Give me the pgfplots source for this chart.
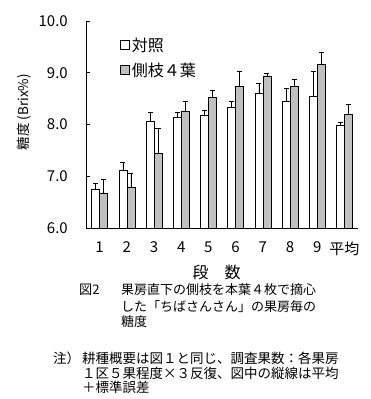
\documentclass[border=0pt]{standalone}
\usepackage{fontspec}
\setmainfont{Noto Sans CJK JP}
\usepackage{pgfplots}
\pgfplotsset{compat=1.18}
\definecolor{barg}{RGB}{192,192,192}
\begin{document}
\begin{tikzpicture}[x=1pt,y=1pt]
\useasboundingbox (0,0) rectangle (370,399);
\begin{axis}[
  at={(86pt,171pt)}, anchor=south west,
  scale only axis, width=272pt, height=207pt,
  xmin=0.5, xmax=10.5, ymin=6, ymax=10,
  axis x line*=bottom, axis y line*=left,
  ytick={6,7,8,9,10},
  yticklabel style={/pgf/number format/fixed,/pgf/number format/fixed zerofill,/pgf/number format/precision=1,inner sep=0pt,xshift=-18pt},
  /pgf/number format/assume math mode=true,
  xtick={1,...,10}, xticklabels={1,2,3,4,5,6,7,8,9,平均},
  xticklabel style={inner sep=0pt, yshift=-10pt},
  x tick style={draw=none},
  y tick style={black, line width=0.6pt},
  tick align=inside, major tick length=3.5pt,
  ticklabel style={font=\fontsize{15}{17}\selectfont},
  axis line style={black, line width=0.6pt},
  ybar=0pt, bar width=8pt,
  xlabel={段　数}, xlabel style={font=\fontsize{16}{18}\selectfont, at={(axis description cs:0.48,-0.215)}, anchor=center},
  ylabel={糖度 (Brix\%)}, ylabel style={font=\fontsize{13.5}{15}\selectfont, at={(axis description cs:-0.228,0.56)}, anchor=center},
  legend style={draw=none, fill=none, at={(axis description cs:0.125,0.93)}, anchor=north west, font=\fontsize{16}{18}\selectfont, row sep=6pt, inner sep=0pt, cells={anchor=west}},
  legend image code/.code={\draw[#1, line width=0.6pt] (0pt,-4.5pt) rectangle (9pt,4.5pt);},
  error bars/y dir=plus, error bars/y explicit,
  error bars/error bar style={black, line width=0.6pt},
  error bars/error mark options={rotate=90, mark size=2.5pt, black, line width=0.6pt},
]
\addplot[draw=black, fill=white, line width=0.6pt] coordinates {
 (1,6.74) +- (0,0.13)
 (2,7.11) +- (0,0.15)
 (3,8.07) +- (0,0.16)
 (4,8.13) +- (0,0.10)
 (5,8.17) +- (0,0.10)
 (6,8.34) +- (0,0.10)
 (7,8.60) +- (0,0.19)
 (8,8.44) +- (0,0.25)
 (9,8.54) +- (0,0.49)
 (10,7.98) +- (0,0.06)
};
\addlegendentry{対照}
\addplot[draw=black, fill=barg, line width=0.6pt] coordinates {
 (1,6.68) +- (0,0.27)
 (2,6.79) +- (0,0.26)
 (3,7.44) +- (0,0.48)
 (4,8.25) +- (0,0.19)
 (5,8.52) +- (0,0.15)
 (6,8.73) +- (0,0.30)
 (7,8.94) +- (0,0.05)
 (8,8.73) +- (0,0.15)
 (9,9.16) +- (0,0.24)
 (10,8.19) +- (0,0.21)
};
\addlegendentry{側枝４葉}
\end{axis}
\begin{scope}[every node/.style={anchor=west, inner sep=0pt}]
\node[font=\fontsize{13.2}{15}\selectfont] at (79,109) {図2};
\node[font=\fontsize{13}{15}\selectfont] at (121,109) {果房直下の側枝を本葉４枚で摘心};
\node[font=\fontsize{13}{15}\selectfont] at (121,92) {した「ちばさんさん」の果房毎の};
\node[font=\fontsize{13}{15}\selectfont] at (121,77) {糖度};
\node[font=\fontsize{13.5}{15}\selectfont] at (53,41) {注）};
\node[font=\fontsize{13.5}{15}\selectfont] at (82,41) {耕種概要は図１と同じ、調査果数：各果房};
\node[font=\fontsize{13.5}{15}\selectfont] at (82,26) {１区５果程度×３反復、図中の縦線は平均};
\node[font=\fontsize{13.5}{15}\selectfont] at (82,12) {＋標準誤差};
\end{scope}
\end{tikzpicture}
\end{document}
